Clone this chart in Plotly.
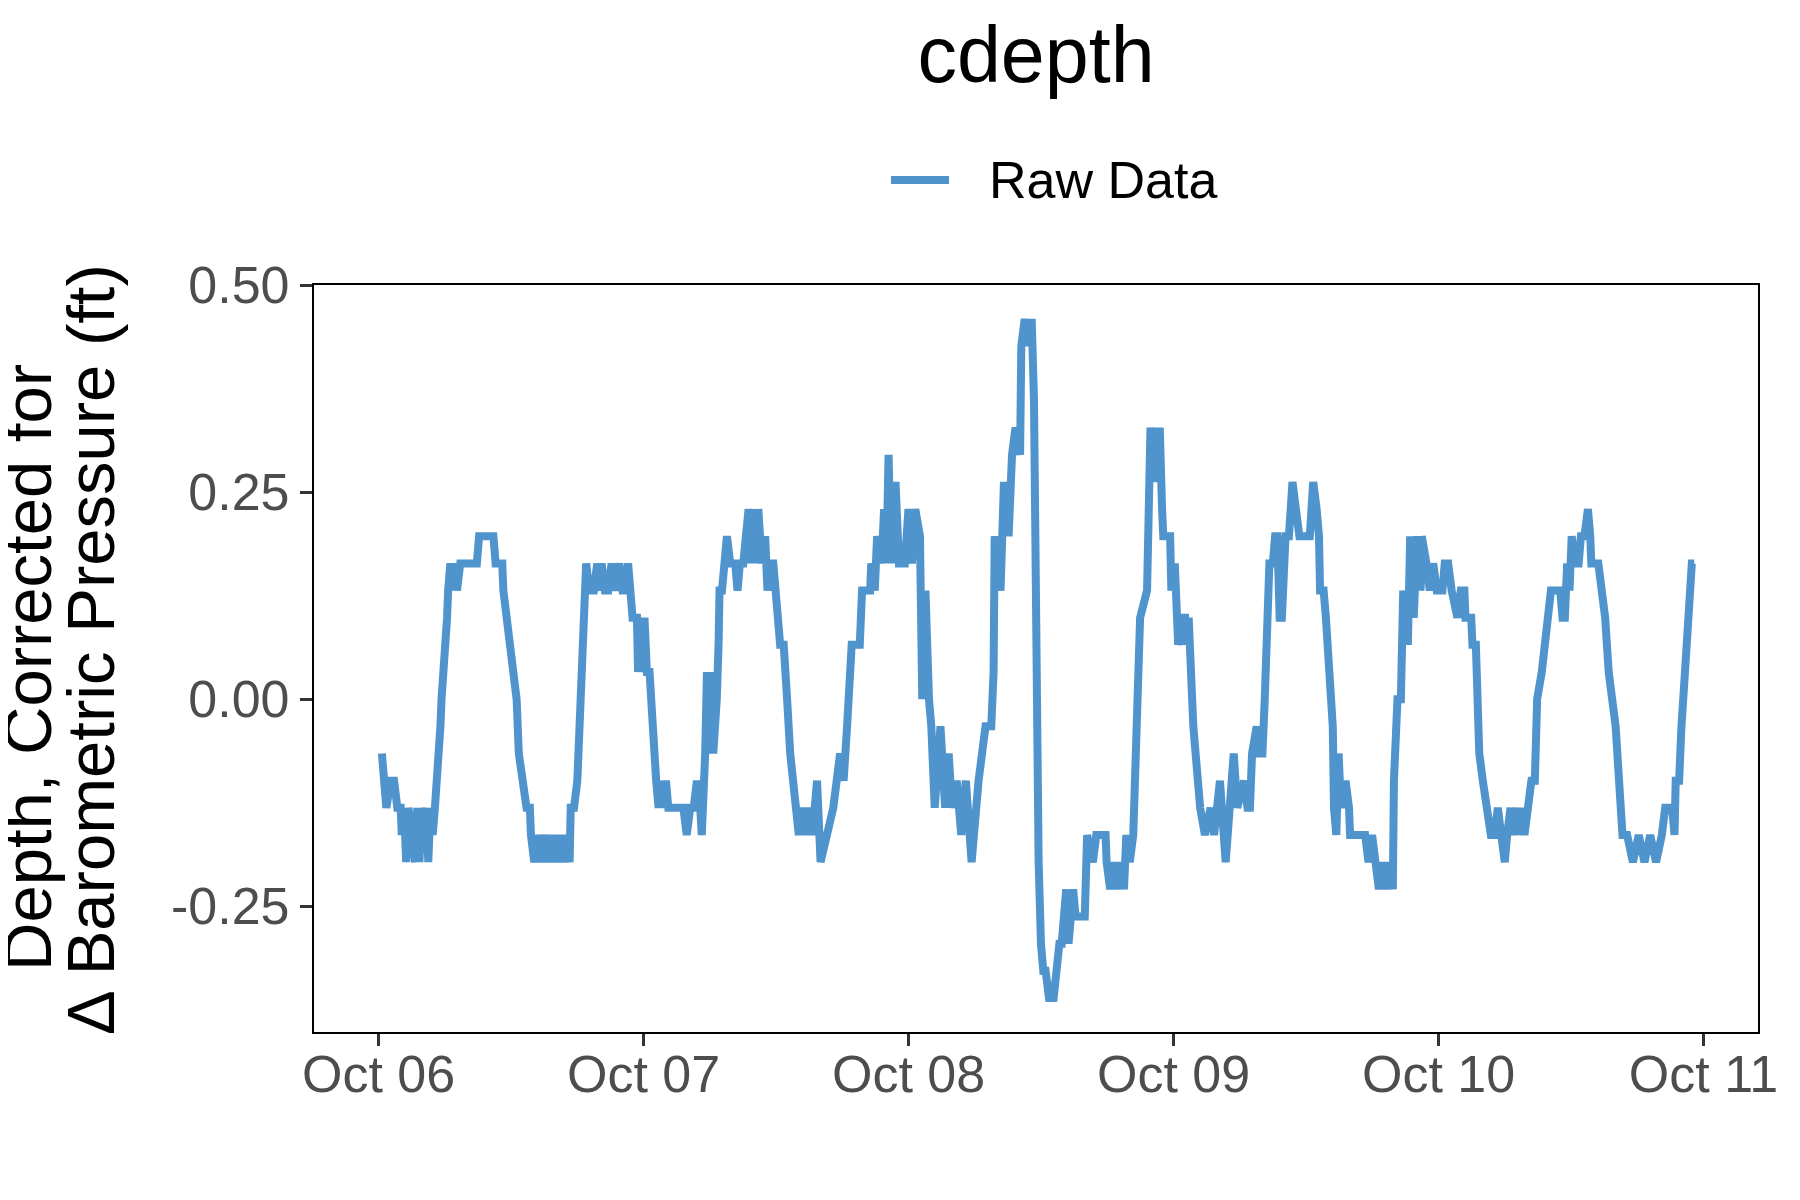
import pandas as pd
import plotly.graph_objects as go

# --- data: depth readings (cm steps of the logger), hours after midnight of each day ---
oct06_hours = [0.3, 0.5, 0.7, 1.1, 1.4, 1.7, 2.0, 2.1, 2.3, 2.5, 2.7, 3.0, 3.3, 3.5, 3.7, 3.9, 4.1, 4.3, 4.5, 4.7,
               4.9, 5.1, 5.3, 5.4, 5.6, 5.7, 5.9, 6.0, 6.2, 6.3, 6.5, 6.7, 6.9, 7.1, 7.4, 8.9, 9.1, 10.4, 10.6, 11.2,
               11.3, 11.6, 11.9, 12.2, 12.5, 12.7, 13.0, 13.4, 13.7, 13.8, 14.1, 14.4, 14.7, 15.1, 15.4, 15.7, 16.0, 16.3, 16.6, 16.9,
               17.3, 17.4, 17.7, 18.0, 18.1, 18.3, 18.4, 18.5, 18.6, 18.8, 19.1, 19.5, 19.8, 19.9, 20.2, 20.5, 20.8, 21.1, 21.4, 21.8,
               22.1, 22.3, 22.6, 22.8, 23.0, 23.4, 23.5, 23.7, 23.9]
oct06_cm = [-2, -3, -4, -3, -3, -4, -4, -5, -4, -6, -4, -5, -6, -4, -6, -4, -5, -4, -6, -4,
            -5, -4, -3, -2, -1, 0, 1, 2, 3, 4, 5, 4, 5, 4, 5, 5, 6, 6, 5, 5,
            4, 3, 2, 1, 0, -2, -3, -4, -4, -5, -6, -5, -6, -5, -6, -5, -6, -5, -6, -5,
            -6, -4, -4, -3, -2, 0, 1, 2, 4, 5, 4, 4, 5, 4, 5, 4, 4, 5, 4, 5,
            4, 4, 5, 4, 3, 3, 1, 3, 1]

oct07_hours = [0.08, 0.3, 0.54, 0.67, 0.85, 1.14, 1.36, 1.66, 1.82, 2.03, 2.24, 2.86, 3.28, 3.6, 3.91, 4.22, 4.54, 4.83, 5.13, 5.27,
               5.58, 5.74, 5.98, 6.19, 6.31, 6.49, 6.63, 6.79, 6.88, 7.1, 7.25, 7.55, 7.85, 8.3, 8.51, 8.72, 9.03, 9.21, 9.51, 9.72,
               9.97, 10.18, 10.39, 10.7, 11.01, 11.22, 11.43, 11.75, 12.01, 12.23, 12.37, 12.69, 12.9, 13.0, 13.28, 13.52, 13.89, 14.06, 14.37, 14.68,
               15.0, 15.29, 15.5, 15.71, 16.03, 16.55, 17.18, 17.8, 18.12, 18.43, 18.85, 19.58, 19.79, 20.52, 20.62, 20.94, 21.15, 21.56, 21.78, 21.99,
               22.19, 22.4, 22.82, 23.13, 23.66, 23.99]
oct07_cm = [3, 1, 1, 0, -2, -3, -4, -3, -4, -3, -4, -4, -4, -4, -5, -4, -4, -3, -4, -5,
            -2, 1, -2, 1, -2, -1, 0, 2, 4, 4, 5, 6, 5, 5, 4, 5, 5, 6, 7, 5,
            7, 5, 7, 5, 6, 4, 5, 5, 4, 3, 2, 2, 1, 0, -2, -3, -4, -5, -4, -5,
            -4, -5, -4, -3, -6, -5, -4, -2, -3, -1, 2, 2, 4, 4, 5, 4, 6, 5, 7, 5,
            9, 5, 8, 5, 5, 7]

oct08_hours = [0.3, 0.61, 1.03, 1.24, 1.53, 1.85, 2.06, 2.37, 2.89, 3.31, 3.63, 3.94, 4.36, 4.77, 5.19, 5.71, 6.34, 6.97, 7.49, 7.7,
               7.8, 8.33, 8.64, 9.06, 9.37, 9.69, 10.1, 10.21, 10.52, 10.84, 11.15, 11.36, 11.46, 11.57, 11.78, 11.99, 12.2, 12.41, 12.72, 13.14,
               13.45, 13.66, 13.87, 14.07, 14.28, 14.49, 14.7, 14.91, 15.12, 15.96, 16.17, 16.69, 17.0, 17.84, 17.94, 18.26, 18.57, 18.88, 19.2, 19.51,
               19.72, 20.03, 20.35, 20.66, 20.76, 20.97, 21.6, 21.7, 21.91, 22.23, 22.44, 22.65, 22.75, 22.96, 23.07, 23.69, 23.8]
oct08_cm = [5, 7, 6, 0, 4, 0, -1, -4, -1, -4, -2, -4, -3, -5, -3, -6, -3, -1, -1, 1,
            6, 4, 8, 6, 9, 10, 9, 13, 14, 13, 14, 11, 7, -3, -6, -9, -10, -10, -11, -11,
            -10, -9, -9, -8, -7, -9, -8, -7, -8, -8, -5, -6, -5, -5, -6, -7, -6, -7, -6, -7,
            -5, -6, -5, 0, 1, 3, 4, 8, 10, 8, 10, 8, 10, 7, 6, 6, 4]

oct09_hours = [0.11, 0.42, 0.74, 1.05, 1.16, 1.37, 1.79, 2.41, 2.84, 3.36, 3.67, 4.2, 4.72, 5.14, 5.45, 5.77, 6.39, 6.7, 6.92, 7.11,
               7.53, 7.74, 8.05, 8.26, 8.36, 8.57, 8.68, 8.99, 9.2, 9.4, 9.61, 9.81, 9.93, 10.14, 10.45, 10.77, 11.08, 11.4, 12.34, 12.65,
               12.96, 13.17, 13.27, 13.59, 13.8, 14.11, 14.42, 14.53, 14.74, 14.95, 15.05, 15.16, 15.58, 15.89, 15.99, 17.14, 17.35, 17.66, 17.98, 18.29,
               18.6, 18.92, 19.23, 19.54, 19.86, 19.96, 20.17, 20.28, 20.59, 20.8, 20.91, 21.12, 21.22, 21.43, 21.75, 22.06, 22.37, 22.48, 22.9, 23.21,
               23.52, 23.84]
oct09_cm = [5, 2, 3, 3, 2, 3, -1, -4, -5, -4, -5, -3, -6, -4, -2, -4, -3, -4, -4, -2,
            -1, -2, -2, 0, 2, 3, 5, 5, 6, 6, 3, 3, 4, 6, 6, 8, 7, 6, 6, 8,
            7, 6, 4, 4, 3, 1, -1, -4, -5, -2, -3, -4, -3, -4, -5, -5, -5, -6, -5, -6,
            -7, -6, -7, -6, -7, -3, -1, 0, 0, 4, 2, 4, 2, 6, 3, 6, 4, 6, 5, 4,
            5, 4]

oct10_hours = [0.35, 0.56, 0.87, 1.19, 1.71, 2.02, 2.34, 2.44, 2.96, 3.07, 3.38, 3.59, 3.69, 4.01, 4.43, 4.74, 5.06, 5.37, 5.68, 6.0,
               6.21, 6.52, 6.74, 7.05, 7.26, 7.47, 7.78, 8.1, 8.41, 8.72, 8.93, 9.35, 9.66, 9.97, 10.18, 10.81, 11.02, 11.23, 11.44, 11.65,
               11.86, 12.06, 12.38, 12.69, 12.9, 13.21, 13.53, 13.74, 13.84, 14.47, 14.78, 15.09, 15.41, 15.72, 16.04, 16.35, 16.56, 16.66, 17.08, 17.6,
               18.13, 18.65, 19.17, 19.7, 20.22, 20.53, 21.16, 21.37, 21.48, 21.79, 22.0, 22.11, 22.32, 22.63, 22.73, 22.94, 23.15]
oct10_cm = [4, 5, 5, 4, 3, 4, 4, 3, 3, 2, 2, 0, -2, -3, -4, -5, -5, -4, -5, -6,
            -5, -4, -5, -4, -5, -4, -5, -4, -3, -3, 0, 1, 2, 3, 4, 4, 4, 3, 3, 5,
            4, 6, 5, 5, 6, 6, 7, 6, 5, 5, 4, 3, 1, 0, -1, -3, -4, -5, -5, -6,
            -5, -6, -5, -6, -5, -4, -4, -5, -3, -3, -1, 0, 1, 3, 4, 5, 5]

days = ["2022-10-06", "2022-10-07", "2022-10-08", "2022-10-09", "2022-10-10"]
hours_by_day = [oct06_hours, oct07_hours, oct08_hours, oct09_hours, oct10_hours]
cm_by_day = [oct06_cm, oct07_cm, oct08_cm, oct09_cm, oct10_cm]

CM_TO_FT = 0.0328084

frames = []
for day, hrs, cm in zip(days, hours_by_day, cm_by_day):
    frames.append(pd.DataFrame({
        "time": pd.Timestamp(day) + pd.to_timedelta(hrs, unit="h"),
        "cdepth": [v * CM_TO_FT for v in cm],
    }))
df = pd.concat(frames, ignore_index=True)

y_ticks = [-0.25, 0.0, 0.25, 0.5]
y_ticktext = ["-0.25", "0.00", "0.25", "0.50"]

LINE_COLOR = "#4F94CD"
FONT = "Liberation Sans, Arial, sans-serif"

# the page body has an 8px margin, so the figure is made 8px smaller each way
PAGE = 8
W, H = 1800 - PAGE, 1200 - PAGE
ML, MR, MT, MB = 306, 42, 277, 168
PW, PH = W - ML - MR, H - MT - MB


def paper_x(win_px):
    return (win_px - PAGE - ML) / PW


def paper_y(win_px):
    return (H - MB - (win_px - PAGE)) / PH


fig = go.Figure()
fig.add_trace(go.Scatter(
    x=df["time"], y=df["cdepth"], mode="lines", name="Raw Data",
    line=dict(color=LINE_COLOR, width=8), showlegend=False,
))

fig.update_layout(
    width=W, height=H,
    margin=dict(l=ML, r=MR, t=MT, b=MB, autoexpand=False),
    paper_bgcolor="white", plot_bgcolor="white",
    font=dict(family=FONT, color="black"),
    title=dict(text="cdepth", x=0.5, xref="paper", xanchor="center",
               y=1 - 46 / H, yref="container", yanchor="middle",
               font=dict(size=79, color="black", family=FONT)),
)

# legend key drawn like ggplot's (longer key line than plotly's own legend)
legend_y = paper_y(180)
fig.add_shape(type="line", xref="paper", yref="paper",
              x0=paper_x(891), x1=paper_x(949), y0=legend_y, y1=legend_y,
              line=dict(color=LINE_COLOR, width=8))
fig.add_annotation(text="Raw Data", x=paper_x(987), xref="paper", xanchor="left",
                   y=legend_y, yref="paper", yanchor="middle", showarrow=False,
                   font=dict(size=52, color="black", family=FONT))

axis_common = dict(
    showgrid=False, zeroline=False,
    showline=True, mirror=True, linecolor="black", linewidth=2.2,
    ticks="outside", ticklen=12, tickwidth=2.6, tickcolor="#333333",
    tickfont=dict(size=52, color="#4D4D4D", family=FONT),
)

fig.update_xaxes(
    type="date", range=["2022-10-05 18:09", "2022-10-11 04:56"],
    tick0="2022-10-06", dtick=86400000, tickformat="%b %d",
    ticklabelstandoff=-17,
    **axis_common,
)
fig.update_yaxes(
    range=[-0.402, 0.5003], tickvals=y_ticks, ticktext=y_ticktext,
    **axis_common,
)

# two-line y title, each line centred like ggplot's
for text, win_x, win_y in [("Depth, Corrected for", 27, 668),
                           ("\u0394 Barometric Pressure (ft)", 90, 650)]:
    fig.add_annotation(text=text, x=paper_x(win_x), xref="paper", xanchor="center",
                       y=paper_y(win_y), yref="paper", yanchor="middle", textangle=-90,
                       showarrow=False, font=dict(size=67, color="black", family=FONT))

fig.write_html("out.html")
